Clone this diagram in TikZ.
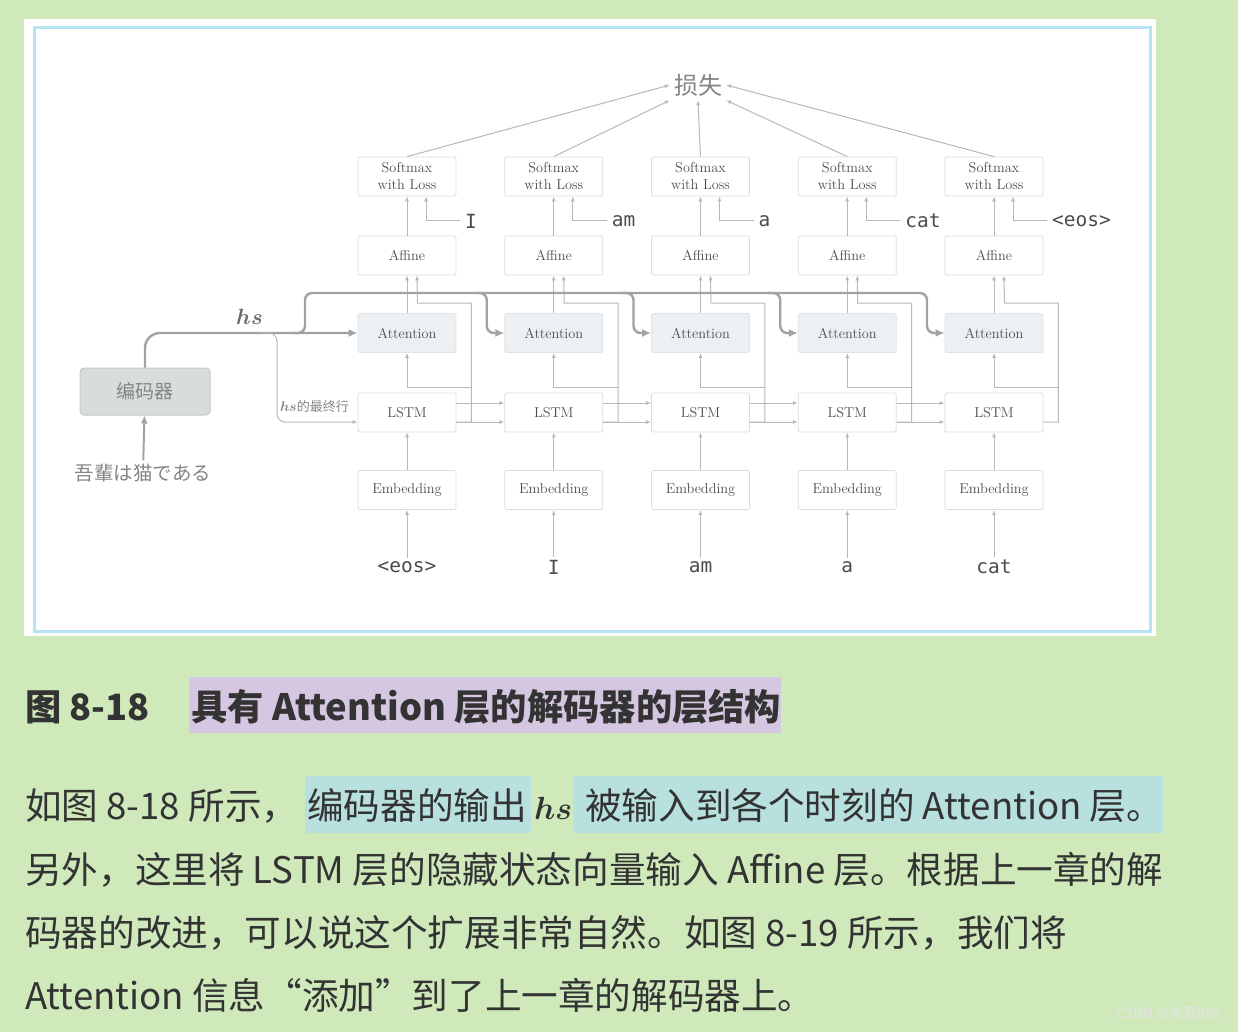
\RequirePackage{fix-cm}
\documentclass[tikz,border=0pt]{standalone}
\usepackage{fontspec}
\usepackage{bm}
\usetikzlibrary{arrows.meta}
\newfontfamily\cjk{Noto Sans CJK SC}
\newfontfamily\jp{Noto Sans CJK JP}
\newfontfamily\mono{DejaVu Sans Mono}
\newfontfamily\lmm{latinmodern-math.otf}
\newcommand\hsbold{{\lmm 𝒉𝒔}}
\definecolor{bg}{HTML}{CFE9BB}
\definecolor{frameblue}{HTML}{B5E3F4}
\definecolor{linegray}{HTML}{B8B8B8}
\definecolor{busgray}{HTML}{A2A2A2}
\definecolor{boxline}{HTML}{DCDCDC}
\definecolor{attfill}{HTML}{EDF0F2}
\definecolor{attline}{HTML}{E0E3E5}
\definecolor{encfill}{HTML}{D8DCDD}
\definecolor{encline}{HTML}{C6CACB}
\definecolor{txtgray}{HTML}{4C4C4C}
\definecolor{lightgray2}{HTML}{858585}
\definecolor{txt}{HTML}{333333}
\definecolor{purplehl}{HTML}{D5C7E2}
\definecolor{cyanhl}{HTML}{B8E0DE}
\tikzset{
  box/.style={draw=boxline, line width=0.8pt, rounded corners=2pt, fill=white,
    minimum width=98pt, minimum height=39pt, inner sep=0pt, text=txtgray,
    font=\fontsize{14.3}{17}\selectfont},
  attbox/.style={box, fill=attfill, draw=attline},
  encbox/.style={draw=encline, line width=1pt, rounded corners=4pt, fill=encfill,
    minimum width=130pt, minimum height=47pt, text=lightgray2, font=\cjk\fontsize{19}{19}\selectfont},
  word/.style={font=\mono\fontsize{19.5}{19.5}\selectfont, text=txtgray, inner sep=3pt},
  tlabel/.style={font=\mono\fontsize{19.5}{19.5}\selectfont, text=txtgray, inner sep=5pt, anchor=west},
  conn/.style={draw=linegray, line width=1pt, -{Latex[length=5pt,width=4pt]}},
  bus/.style={draw=busgray, line width=2.4pt, rounded corners=7pt, -{Latex[length=9pt,width=8pt]}},
}
\begin{document}
\begin{tikzpicture}[x=1pt,y=-1pt]
\useasboundingbox (0,0) rectangle (1238,1032);
\fill[bg] (0,0) rectangle (1238,1032);
\fill[white] (24,19) rectangle (1156,636);
\draw[frameblue, line width=3pt] (34,28) rectangle (1150,631);

% loss
\node[font=\cjk\fontsize{24}{24}\selectfont, text=lightgray2, inner sep=4pt] (loss) at (698,85) {损失};

% columns
\foreach \i/\w/\t in {1/{<eos>}/I, 2/I/am, 3/am/a, 4/a/cat, 5/cat/{<eos>}} {
  \pgfmathsetmacro\cx{407+(\i-1)*146.75}
  \node[box, align=center] (sm\i) at (\cx,176.5) {Softmax\\with Loss};
  \node[box] (af\i) at (\cx,255.5) {Affine};
  \node[attbox] (at\i) at (\cx,333) {Attention};
  \node[box] (ls\i) at (\cx,412.5) {LSTM};
  \node[box] (em\i) at (\cx,490) {Embedding};
  \node[word] (w\i) at (\cx,567) {\w};
  \node[tlabel] (lab\i) at (\cx+53,221) {\t};
  \draw[conn] (w\i) -- (em\i);
  \draw[conn] (em\i) -- (ls\i);
  \draw[conn] (at\i) -- (af\i);
  \draw[conn] (af\i) -- (sm\i);
  \draw[conn] (lab\i.west) -| ([xshift=19pt]sm\i.south);
  \draw[conn] ([yshift=-9.5pt]ls\i.east) -- ++(15,0) -- ++(0,-119) -- ++(-54,0) -- ([xshift=10pt]af\i.south);
  \draw[conn] ([yshift=-9.5pt]ls\i.east) ++(15,-35) -| (at\i.south);
}
\foreach \i/\j in {1/2,2/3,3/4,4/5} {
  \draw[conn] ([yshift=9.5pt]ls\i.east) -- ([yshift=9.5pt]ls\j.west);
  \draw[conn] ([yshift=-9.5pt]ls\i.east) -- ([yshift=-9.5pt]ls\j.west);
}

% loss arrows
\draw[conn] (sm1.north) -- (loss.west);
\draw[conn] (sm2.north) -- (loss.south west);
\draw[conn] (sm3.north) -- (loss.south);
\draw[conn] (sm4.north) -- (loss.south east);
\draw[conn] (sm5.north) -- (loss.east);

% encoder
\node[encbox] (enc) at (145,391.5) {编码器};
\node[font=\jp\fontsize{19.5}{19.5}\selectfont, text=lightgray2] (src) at (143,473) {吾輩は猫である};
\draw[draw=busgray, line width=2pt, -{Latex[length=8pt,width=7pt]}] (src) -- (enc);

% hs bus
\coordinate (hsa) at (290,333);
\coordinate (hsb) at (305,293);
\coordinate (hsc) at (262,333);
\coordinate (hsd) at (277,422);
\draw[bus, rounded corners=15pt] (enc.north) |- (at1.west);
\foreach \j in {2,3,4} {
  \pgfmathsetmacro\bx{407+(\j-1)*146.75-67}
  \coordinate (b\j) at (\bx, 293);
  \draw[bus] ([xshift=-12pt]b\j) -- (b\j) -- (b\j |- at\j.west) -- (at\j.west);
}
\coordinate (b5) at (927, 293);
\draw[bus] (hsa) -- (hsa -| hsb) -- (hsb) -- (b5) -- (b5 |- at5.west) -- (at5.west);
\draw[conn, rounded corners=8pt] (hsc) -- (hsc -| hsd) -- (hsd) -- ([yshift=-9.5pt]ls1.west);
\node[anchor=west, inner sep=0pt, text=lightgray2] (hsl) at (280,407) {\fontsize{14}{14}\selectfont\hsbold\cjk\fontsize{13}{13}\selectfont 的最终行};
\node[text=lightgray2!80!black, inner sep=0pt] (hslab) at (250,317) {\fontsize{22}{22}\selectfont\hsbold};

% caption
\fill[purplehl] (189,677) rectangle (781,733);
\node[anchor=base west, inner sep=0pt, text=txt, font=\cjk\bfseries\fontsize{36.3}{40}\selectfont] (cap1) at (25,720) {图 8-18};
\node[anchor=base west, inner sep=0pt, text=txt, font=\cjk\bfseries\fontsize{36.3}{40}\selectfont] (cap2) at (191,720) {具有 Attention 层的解码器的层结构};

% paragraph
\fill[cyanhl] (305,776) rectangle (531,833);
\fill[cyanhl] (573,776) rectangle (1163,833);
\tikzset{para/.style={anchor=base west, inner sep=0pt, text=txt, font=\cjk\fontsize{36.6}{40}\selectfont}}
\node[para] (p1a) at (25,819) {如图 8-18 所示，};
\node[para] (p1b) at (307,819) {编码器的输出};
\node[para, font=\fontsize{32}{36}\selectfont] (p1c) at (534,819) {\hsbold};
\node[para] (p1d) at (585,819) {被输入到各个时刻的 Attention 层。};
\node[para] (p2) at (25,883) {另外，这里将 LSTM 层的隐藏状态向量输入 Affine 层。根据上一章的解};
\node[para] (p3) at (25,946) {码器的改进，可以说这个扩展非常自然。如图 8-19 所示，我们将};
\node[para] (p4) at (25,1009) {Attention 信息“添加”到了上一章的解码器上。};

\node[anchor=east, text=white!80!gray, font=\cjk\fontsize{14}{14}\selectfont] (wm) at (1224,1014) {CSDN @安夏886};
\end{tikzpicture}
\end{document}
